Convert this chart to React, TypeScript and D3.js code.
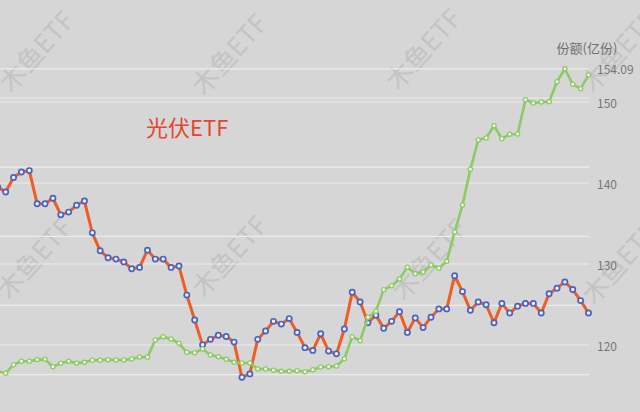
import React from "react";
import * as d3 from "d3";

// ETF price (left, hidden axis)
const priceValues: number[] = [
  0.871, 0.864, 0.885, 0.893, 0.895, 0.847, 0.847, 0.855, 0.831, 0.835,
  0.845, 0.851, 0.805, 0.779, 0.769, 0.767, 0.763, 0.753, 0.755, 0.780,
  0.767, 0.767, 0.755, 0.757, 0.715, 0.679, 0.643, 0.651, 0.657, 0.655,
  0.647, 0.596, 0.601, 0.651, 0.663, 0.677, 0.673, 0.681, 0.661, 0.639,
  0.635, 0.659, 0.634, 0.630, 0.666, 0.719, 0.705, 0.675, 0.686, 0.667,
  0.677, 0.691, 0.661, 0.682, 0.668, 0.683, 0.695, 0.695, 0.743, 0.720,
  0.693, 0.705, 0.701, 0.675, 0.703, 0.689, 0.699, 0.703, 0.703, 0.689,
  0.717, 0.725, 0.734, 0.723, 0.707, 0.689,
];

// Shares (亿份), right axis
const shareValues: number[] = [
  116.73, 116.51, 117.57, 117.99, 117.99, 118.19, 118.23, 117.32, 117.74, 117.99,
  117.74, 117.86, 118.11, 118.11, 118.19, 118.15, 118.15, 118.27, 118.52, 118.48,
  120.62, 121.02, 120.74, 120.21, 119.10, 119.05, 119.51, 118.77, 118.56, 118.23,
  117.86, 117.78, 117.78, 117.04, 117.04, 116.88, 116.75, 116.75, 116.83, 116.70,
  116.95, 117.28, 117.32, 117.41, 118.31, 121.02, 120.53, 123.42, 124.16, 126.83,
  127.32, 128.15, 129.59, 128.80, 129.01, 129.88, 129.47, 130.33, 133.95, 137.28,
  141.69, 145.31, 145.56, 147.07, 145.47, 146.01, 146.05, 150.28, 149.88, 150.00,
  150.04, 152.51, 154.09, 152.19, 151.64, 153.33,
];

const rightTicks: number[] = [120, 130, 140, 150, 154.09];
const leftTicks: number[] = [0.6, 0.7, 0.8, 0.9, 1.0];
const rightAxisName = "份额(亿份)";
const titleText = "光伏ETF";
const watermarkText = "木鱼ETF";

const W = 640;
const H = 412;
const plotLeft = -2.2;
const plotRight = 588.5;

export default function App() {
  const x = d3.scaleLinear().domain([0, priceValues.length - 1]).range([plotLeft, plotRight]);
  const yR = d3.scaleLinear().domain([120, 150]).range([345, 102]);
  const yL = d3.scaleLinear().domain([0.6, 1.0]).range([374.6, 98]);

  const priceLine = d3.line<number>().x((_, i) => x(i)).y((d) => yL(d))(priceValues) || "";
  const shareLine = d3.line<number>().x((_, i) => x(i)).y((d) => yR(d))(shareValues) || "";

  const wmPos: [number, number][] = [
    [35, 50], [228, 53], [422, 48], [617, 50],
    [33, 257], [228, 255], [428, 258], [618, 262],
  ];

  const font = "'Noto Sans CJK SC', 'Noto Sans', sans-serif";

  return (
    <svg
      width={W}
      height={H}
      style={{ position: "fixed", left: 0, top: 0, display: "block" }}
      fontFamily={font}
    >
      <rect x={0} y={0} width={W} height={H} fill="#d6d6d6" />
      {/* watermarks */}
      {wmPos.map(([cx, cy], i) => (
        <text
          key={"wm" + i}
          x={cx}
          y={cy}
          textAnchor="middle"
          dominantBaseline="central"
          fontSize={26}
          fill="#c4c4c4"
          transform={`rotate(-48 ${cx} ${cy})`}
        >
          {watermarkText}
        </text>
      ))}
      {/* left gridlines */}
      {leftTicks.map((t) => (
        <line key={"gl" + t} x1={0} x2={plotRight + 0.5} y1={yL(t)} y2={yL(t)} stroke="#ececec" strokeWidth={1.2} />
      ))}
      {/* right gridlines */}
      {rightTicks.map((t) => (
        <line key={"gr" + t} x1={0} x2={plotRight + 0.5} y1={yR(t)} y2={yR(t)} stroke="#ececec" strokeWidth={1.2} />
      ))}
      {/* right tick labels */}
      {rightTicks.map((t) => (
        <text
          key={"tr" + t}
          x={597}
          y={yR(t)}
          dominantBaseline="central"
          fontSize={12}
          fill="#777"
        >
          {Number.isInteger(t) ? String(t) : t.toFixed(2)}
        </text>
      ))}
      <text x={587} y={47} textAnchor="middle" dominantBaseline="central" fontSize={13} fill="#6e6e6e">
        {rightAxisName}
      </text>
      <text x={146} y={126} dominantBaseline="central" fontSize={22} fill="#e5462d">
        {titleText}
      </text>
      {/* price line */}
      <path d={priceLine} fill="none" stroke="#ee5d22" strokeWidth={3} strokeLinejoin="round" />
      {priceValues.map((v, i) => (
        <circle key={"p" + i} cx={x(i)} cy={yL(v)} r={2.6} fill="#eef0f8" stroke="#4a62c2" strokeWidth={1.7} />
      ))}
      {/* share line */}
      <path d={shareLine} fill="none" stroke="#8ccb63" strokeWidth={2.6} strokeLinejoin="round" />
      {shareValues.map((v, i) => (
        <circle key={"s" + i} cx={x(i)} cy={yR(v)} r={2.1} fill="#f2f7ee" stroke="#8ccb63" strokeWidth={1.3} />
      ))}
    </svg>
  );
}
